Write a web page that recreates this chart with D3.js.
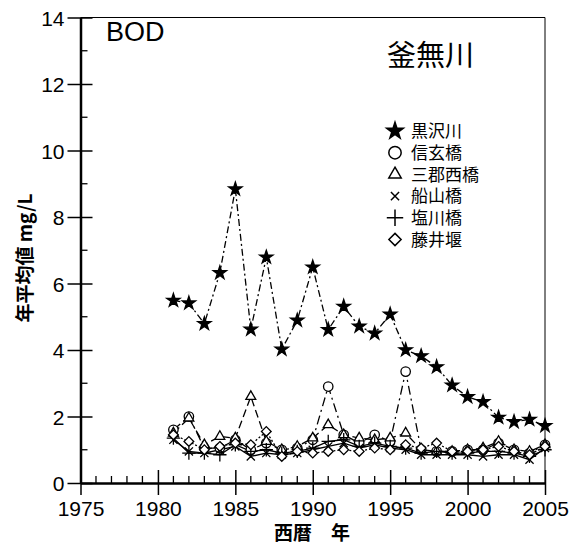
<!DOCTYPE html>
<html>
<head>
<meta charset="utf-8">
<script src="https://cdn.jsdelivr.net/npm/d3@7"></script>
<style>
  body { margin: 0; background: #fff; }
  text { fill: #000; }
</style>
</head>
<body>
<svg id="viz"></svg>
<script>
// data
let years = d3.range(1981, 2006);
let kurosawa = [5.49, 5.41, 4.79, 6.32, 8.84, 4.62, 6.79, 4.02, 4.89, 6.49, 4.61, 5.31, 4.71, 4.5, 5.07, 4.0, 3.82, 3.49, 2.94, 2.59, 2.44, 1.97, 1.84, 1.91, 1.72];
let shingen = [1.6, 2.0, 1.05, 1.05, 1.3, 1.0, 1.2, 1.0, 1.05, 1.3, 2.9, 1.45, 1.2, 1.45, 1.25, 3.35, 1.0, 0.95, 0.95, 1.0, 1.0, 1.2, 1.0, 0.9, 1.15];
let sangun = [1.5, 1.95, 1.15, 1.4, 1.35, 2.6, 1.25, 1.0, 1.1, 1.35, 1.75, 1.45, 1.35, 1.3, 1.35, 1.5, 1.0, 0.95, 0.95, 1.0, 1.05, 1.25, 1.0, 0.95, 1.15];
let funayama = [1.3, 0.95, 0.9, 1.0, 1.1, 0.8, 0.9, 0.85, 0.9, 1.0, 1.1, 1.2, 1.05, 1.15, 1.05, 1.0, 0.85, 0.85, 0.85, 0.85, 0.8, 0.85, 0.85, 0.7, 1.05];
let shiokawa = [1.35, 0.9, 0.9, 0.85, 1.15, 0.95, 1.0, 0.9, 0.95, 1.05, 1.25, 1.3, 1.1, 1.2, 1.1, 1.05, 0.9, 0.95, 0.9, 0.9, 0.95, 0.95, 0.9, 0.8, 1.0];
let fujii = [1.45, 1.25, 1.0, 1.1, 1.2, 1.15, 1.55, 0.8, 0.95, 0.9, 0.95, 1.0, 0.95, 1.05, 1.0, 1.15, 1.05, 1.2, 0.95, 0.95, 1.0, 1.1, 0.95, 0.85, 1.1];

let seriesNames = ['黒沢川', '信玄橋', '三郡西橋', '船山橋', '塩川橋', '藤井堰'];
let seriesValues = [kurosawa, shingen, sangun, funayama, shiokawa, fujii];
let xTicks = [1975, 1980, 1985, 1990, 1995, 2000, 2005];
let yTicks = [0, 2, 4, 6, 8, 10, 12, 14];

// look of each series
let symbols = [d3.symbolStar, d3.symbolCircle, d3.symbolTriangle2, d3.symbolTimes, d3.symbolPlus, d3.symbolDiamond2];
let symSizes = [55, 70, 70, 45, 60, 60];
let legSizes = [85, 120, 110, 45, 90, 95];
let filled = [true, false, false, false, false, false];
let dashes = ['7,3,2,3', '9,4,2,4', '8,4', null, null, '2,2'];

let W = 570, H = 550;
let svg = d3.select('#viz').attr('width', W).attr('height', H);

let x = d3.scaleLinear().domain([1975, 2005]).range([80.5, 545]);
let y = d3.scaleLinear().domain([0, 14]).range([483, 17.5]);

let tickFont = '"Liberation Sans", Arial, sans-serif';
let jpFont = '"Noto Sans CJK JP", sans-serif';

// frame (thin top and right)
svg.append('path')
  .attr('d', `M${x(1975)},${y(14)}H${x(2005)}V${y(0)}`)
  .attr('fill', 'none').attr('stroke', '#000').attr('stroke-width', 1);

// minor ticks
let xMinor = d3.range(1975, 2006).filter(d => d % 5 !== 0);
svg.selectAll('line.xminor').data(xMinor).enter().append('line')
  .attr('x1', d => x(d)).attr('x2', d => x(d))
  .attr('y1', y(0)).attr('y2', y(0) - 7)
  .attr('stroke', '#000').attr('stroke-width', 1.3);
let yMinor = d3.range(1, 14, 2);
svg.selectAll('line.yminor').data(yMinor).enter().append('line')
  .attr('x1', x(1975)).attr('x2', x(1975) + 7)
  .attr('y1', d => y(d)).attr('y2', d => y(d))
  .attr('stroke', '#000').attr('stroke-width', 1.3);

// axes
let xAxis = svg.append('g').attr('transform', `translate(0,${y(0)})`)
  .call(d3.axisBottom(x).tickValues(xTicks).tickFormat(d3.format('d')).tickSize(12).tickSizeOuter(0));
xAxis.selectAll('.tick line').attr('y1', -13).attr('stroke-width', 1.5);
xAxis.select('.domain').attr('stroke-width', 2.5);
xAxis.selectAll('.tick text').attr('y', 13).attr('dy', '0.95em')
  .style('font-family', tickFont).style('font-size', '21px');

let yAxis = svg.append('g').attr('transform', `translate(${x(1975)},0)`)
  .call(d3.axisLeft(y).tickValues(yTicks).tickSize(13).tickSizeOuter(0));
yAxis.selectAll('.tick line').attr('x1', 12).attr('x2', -13).attr('stroke-width', 1.5);
yAxis.select('.domain').attr('stroke-width', 2.5);
yAxis.selectAll('.tick text').attr('x', -16).attr('dy', '0.36em')
  .style('font-family', tickFont).style('font-size', '21px');

// lines + markers
let line = d3.line().x((d, i) => x(years[i])).y(d => y(d));
let plot = svg.append('g');
seriesValues.forEach((vals, s) => {
  plot.append('path').datum(vals)
    .attr('d', line)
    .attr('fill', 'none').attr('stroke', '#000').attr('stroke-width', 1.3)
    .attr('stroke-dasharray', dashes[s]);
});
seriesValues.forEach((vals, s) => {
  let open = symbols[s] === d3.symbolTimes || symbols[s] === d3.symbolPlus;
  plot.selectAll('path.m' + s).data(vals).enter().append('path')
    .attr('d', d3.symbol().type(symbols[s]).size(symSizes[s]))
    .attr('transform', (d, i) => `translate(${x(years[i])},${y(d)})`)
    .attr('fill', filled[s] ? '#000' : (open ? 'none' : '#fff'))
    .attr('stroke', '#000').attr('stroke-width', 1.3);
});

// titles
svg.append('text').attr('x', 106).attr('y', 41).text('BOD')
  .style('font-family', tickFont).style('font-size', '27px');
svg.append('text').attr('x', 387).attr('y', 66).text('釜無川')
  .style('font-family', jpFont).style('font-size', '29px');

// legend
let leg = svg.append('g');
seriesNames.forEach((name, s) => {
  let ly = 131 + s * 21.7;
  leg.append('path')
    .attr('d', d3.symbol().type(symbols[s]).size(legSizes[s]))
    .attr('transform', `translate(395,${ly})`)
    .attr('fill', filled[s] ? '#000' : 'none')
    .attr('stroke', '#000').attr('stroke-width', 1.5);
  leg.append('text').attr('x', 411).attr('y', ly).attr('dy', '0.36em').text(name)
    .style('font-family', jpFont).style('font-size', '17px');
});

// axis titles
svg.append('text').attr('x', 312).attr('y', 540).attr('text-anchor', 'middle')
  .text('西暦　年')
  .style('font-family', jpFont).style('font-size', '19px').style('font-weight', 'bold');
svg.append('text')
  .attr('transform', 'translate(32,258) rotate(-90)')
  .attr('text-anchor', 'middle')
  .text('年平均値 mg/L')
  .style('font-family', jpFont).style('font-size', '19px').style('font-weight', 'bold');
</script>
</body>
</html>
